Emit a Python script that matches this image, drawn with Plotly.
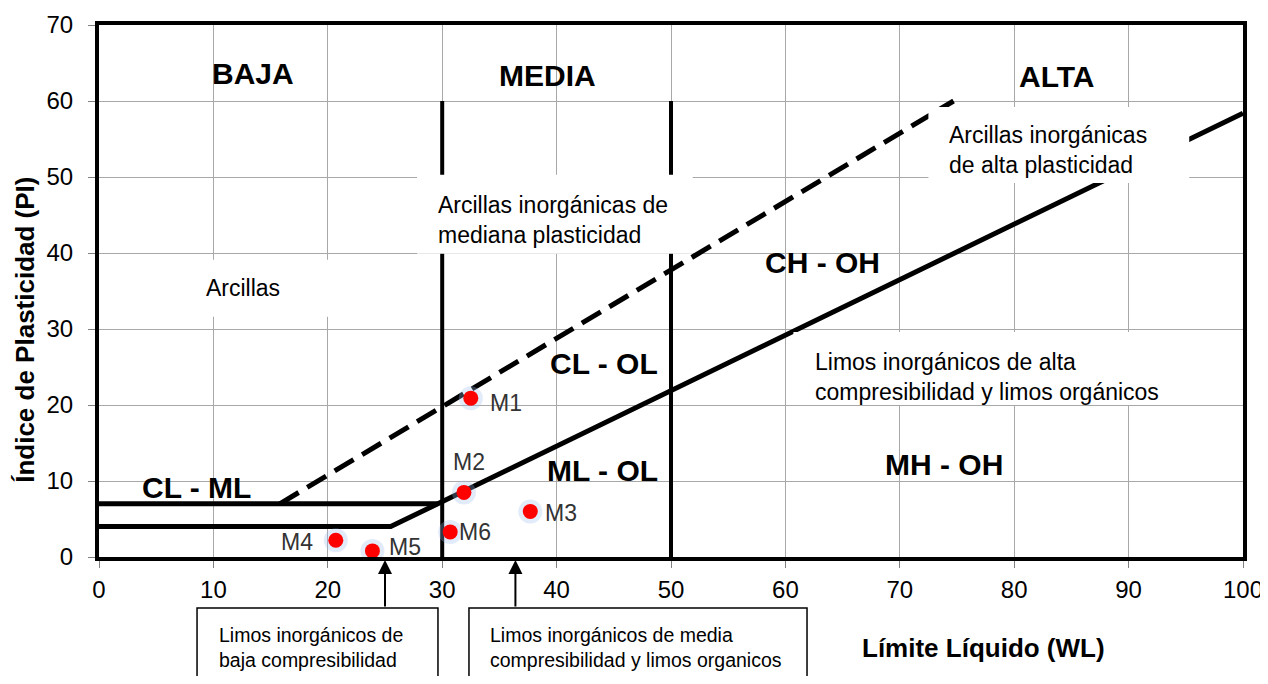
import plotly.graph_objects as go

# ---------------- data ----------------
sample_names = ["M1", "M2", "M3", "M4", "M5", "M6"]
sample_wl = [32.5, 31.9, 37.7, 20.7, 23.9, 30.7]
sample_pi = [20.9, 8.5, 6.0, 2.2, 0.8, 3.3]
label_shift = [(35, -5), (5, 30), (31, -2), (-39, -2), (33, 4), (25, 0)]

a_line_wl = [0, 25.5, 100]
a_line_pi = [4, 4, 58.4]
cl_ml_wl = [0, 29.6]
cl_ml_pi = [7, 7]
u_line_wl = [15.8, 74.7]
u_line_pi = [7, 60]
limit_wl = [30, 50]
limit_pi = [0, 60]

x_ticks = list(range(0, 101, 10))
y_ticks = list(range(0, 71, 10))

zone_labels = [
    ("BAJA", 13.5, 63.6), ("MEDIA", 39.2, 63.4), ("ALTA", 83.7, 63.2),
    ("CL - ML", 8.5, 9.1), ("CL - OL", 44.1, 25.5), ("ML - OL", 44.0, 11.4),
    ("CH - OH", 63.2, 38.7), ("MH - OH", 73.9, 12.2),
]

FONT = "Liberation Sans, Arial, sans-serif"

fig = go.Figure()

# classification lines
fig.add_trace(go.Scatter(x=a_line_wl, y=a_line_pi, mode="lines",
                         line=dict(color="black", width=5), hoverinfo="skip"))
fig.add_trace(go.Scatter(x=cl_ml_wl, y=cl_ml_pi, mode="lines",
                         line=dict(color="black", width=5), hoverinfo="skip"))
fig.add_trace(go.Scatter(x=u_line_wl, y=u_line_pi, mode="lines",
                         line=dict(color="black", width=5, dash="22px,10px"), hoverinfo="skip"))
for w in limit_wl:
    fig.add_trace(go.Scatter(x=[w, w], y=limit_pi, mode="lines",
                             line=dict(color="black", width=4), hoverinfo="skip"))

# samples (glow + dot)
fig.add_trace(go.Scatter(x=sample_wl, y=sample_pi, mode="markers",
                         marker=dict(size=24, color="rgba(160,190,235,0.3)"), hoverinfo="skip"))
fig.add_trace(go.Scatter(x=sample_wl, y=sample_pi, mode="markers",
                         marker=dict(size=15, color="#ff0000"), hoverinfo="skip"))

annotations = []
for name, xw, yp, (dx, dy) in zip(sample_names, sample_wl, sample_pi, label_shift):
    annotations.append(dict(x=xw, y=yp, text=name, showarrow=False, xshift=dx, yshift=dy,
                            font=dict(family=FONT, size=23, color="#333333")))

for txt, xx, yy in zone_labels:
    annotations.append(dict(x=xx, y=yy, text=f"<b>{txt}</b>", showarrow=False,
                            font=dict(family=FONT, size=30, color="black")))

# white boxes hiding lines under explanatory texts
boxes = [
    (6.5, 21.5, 31.6, 39.1),
    (27.8, 51.9, 39.9, 50.3),
    (72.5, 95.3, 49.2, 59.2),
    (60.7, 94.5, 20.0, 29.6),
]
shapes = []
for x0, x1, y0, y1 in boxes:
    shapes.append(dict(type="rect", xref="x", yref="y", x0=x0, x1=x1, y0=y0, y1=y1,
                       fillcolor="white", line=dict(width=0), layer="above"))

normal = dict(family=FONT, size=23, color="black")
annotations += [
    dict(x=12.6, y=35.4, text="Arcillas", showarrow=False, font=normal),
    dict(x=29.5, y=44.3, text="Arcillas inorgánicas de<br>mediana plasticidad", showarrow=False,
         xanchor="left", align="left", font=normal),
    dict(x=74.1, y=53.6, text="Arcillas inorgánicas<br>de alta plasticidad", showarrow=False,
         xanchor="left", align="left", font=normal),
    dict(x=62.4, y=23.7, text="Limos inorgánicos de alta<br>compresibilidad y limos orgánicos",
         showarrow=False, xanchor="left", align="left", font=normal),
]

# bottom call-out boxes
for x0, x1 in [(0.0857, 0.2963), (0.3234, 0.6189)]:
    shapes.append(dict(type="rect", xref="paper", yref="paper", x0=x0, x1=x1, y0=-0.30, y1=-0.0959,
                       fillcolor="white", line=dict(color="black", width=1.5), layer="above"))
small = dict(family=FONT, size=19.5, color="black")
annotations += [
    dict(xref="paper", yref="paper", x=0.1031, y=-0.171, text="Limos inorgánicos de<br>baja compresibilidad",
         showarrow=False, xanchor="left", yanchor="middle", align="left", font=small),
    dict(xref="paper", yref="paper", x=0.340, y=-0.171,
         text="Limos inorgánicos de media<br>compresibilidad y limos organicos",
         showarrow=False, xanchor="left", yanchor="middle", align="left", font=small),
]
for xa in [25, 36.4]:
    annotations.append(dict(x=xa, y=0, ax=0, ay=51, text="", showarrow=True, arrowhead=2,
                            arrowsize=1.4, arrowwidth=2, arrowcolor="black", standoff=3))

# axis titles
annotations += [
    dict(xref="paper", yref="paper", x=0.7736, y=-0.171, text="<b>Límite Líquido (WL)</b>",
         xanchor="center", yanchor="middle",
         showarrow=False, font=dict(family=FONT, size=26, color="black")),
    dict(xref="paper", yref="paper", x=-0.0647, y=0.427, text="<b>Índice de Plasticidad (PI)</b>",
         xanchor="center", yanchor="middle",
         textangle=-90, showarrow=False, font=dict(family=FONT, size=26, color="black")),
]

axis_common = dict(showline=True, linewidth=4, linecolor="black", mirror=True,
                   showgrid=True, gridcolor="#a8a8a8", gridwidth=1, zeroline=False,
                   ticks="outside", ticklen=7, tickcolor="#808080", tickwidth=1,
                   ticklabeloverflow="allow", automargin=False,
                   tickfont=dict(family=FONT, size=24, color="black"))

# page body has an 8px margin: size the figure so the plot area lands where the reference has it
fig.update_layout(
    width=1266, height=668,
    margin=dict(l=91, r=31, t=17, b=119, autoexpand=False),
    plot_bgcolor="white", paper_bgcolor="white",
    showlegend=False,
    xaxis=dict(range=[0, 100], tickvals=x_ticks, ticklabelstandoff=1, **axis_common),
    yaxis=dict(range=[0, 70], tickvals=y_ticks, ticklabelstandoff=10, **axis_common),
    shapes=shapes,
    annotations=annotations,
)

fig.write_html("out.html")
